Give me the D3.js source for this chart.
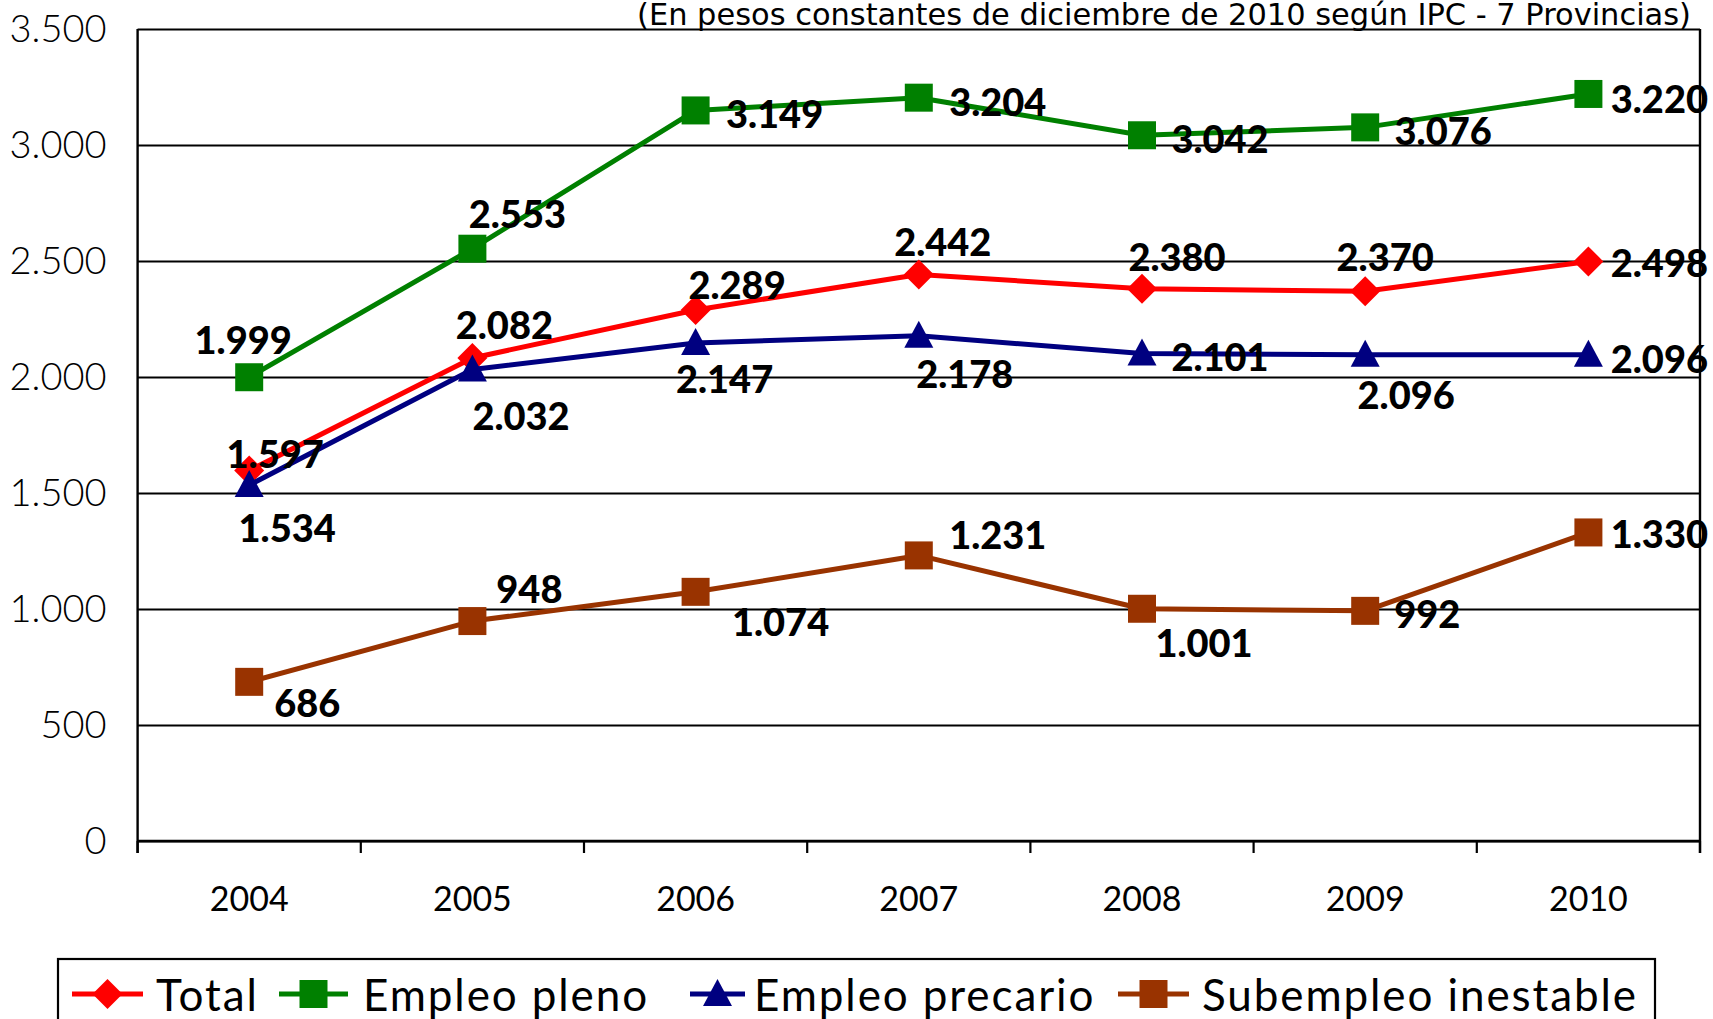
<!DOCTYPE html>
<html>
<head>
<meta charset="utf-8">
<script src="https://cdn.jsdelivr.net/npm/d3@7"></script>
<style>
  html, body { margin: 0; padding: 0; background: #fff; overflow: hidden; }
  svg { display: block; }
</style>
</head>
<body>
<script>
// ---------------- DATA ----------------
const years = ["2004", "2005", "2006", "2007", "2008", "2009", "2010"];
const seriesNames = ["Total", "Empleo pleno", "Empleo precario", "Subempleo inestable"];
const totalValues = [1597, 2082, 2289, 2442, 2380, 2370, 2498];
const plenoValues = [1999, 2553, 3149, 3204, 3042, 3076, 3220];
const precarioValues = [1534, 2032, 2147, 2178, 2101, 2096, 2096];
const subempleoValues = [686, 948, 1074, 1231, 1001, 992, 1330];
const yTicks = [0, 500, 1000, 1500, 2000, 2500, 3000, 3500];
const subtitle = "(En pesos constantes de diciembre de 2010 según IPC - 7 Provincias)";

// ---------------- LAYOUT ----------------
const W = 1713, H = 1019;
const plot = { left: 137.6, right: 1700, top: 29, bottom: 841 };
const colors = ["#FF0000", "#008000", "#000080", "#993300"];
const markers = ["diamond", "square", "triangle", "square"];
// label offsets (dx, dy) relative to each point, per series
const labelOffsets = [
  [[26,-17.5],[32,-34],[41.5,-26],[24,-33],[35,-33],[20,-35],[71,1]],
  [[-6,-38],[45,-36],[79,3],[79,3],[78,3],[78,3],[71,4]],
  [[38,41.5],[48.6,45],[29,35],[46,37],[78,2],[41,39],[71,3]],
  [[58,20],[57,-33],[85,29.5],[79,-21],[62,33],[62,2],[71,1]]
];
const legendItems = [
  { lineX0: 72, lineX1: 143, textX: 156 },
  { lineX0: 279, lineX1: 348, textX: 363 },
  { lineX0: 690, lineX1: 745, textX: 754 },
  { lineX0: 1118, lineX1: 1189, textX: 1202 }
];

const seriesValues = [totalValues, plenoValues, precarioValues, subempleoValues];

const loc = d3.formatLocale({ decimal: ",", thousands: ".", grouping: [3], currency: ["$", ""] });
const fmt = loc.format(",d");

const svg = d3.select("body").append("svg").attr("width", W).attr("height", H);

const x = d3.scaleBand().domain(years).range([plot.left, plot.right]).paddingInner(0).paddingOuter(0);
const y = d3.scaleLinear().domain([0, 3500]).range([plot.bottom, plot.top]);
const cx = d => x(d) + x.bandwidth() / 2;

// gridlines + y labels
const yAxis = d3.axisLeft(y).tickValues(yTicks).tickSize(-(plot.right - plot.left)).tickFormat(fmt).tickPadding(31);
const gy = svg.append("g").attr("transform", `translate(${plot.left},0)`).call(yAxis);
gy.select(".domain").remove();
gy.selectAll(".tick line").attr("stroke", "#000").attr("stroke-width", 2.2);
gy.selectAll(".tick text")
  .attr("fill", "#000")
  .style("font-family", "Lato, 'DejaVu Sans', sans-serif")
  .style("font-weight", 300)
  .style("font-size", "38px");

// x axis
const xAxis = d3.axisBottom(x).tickSize(0).tickPadding(46);
const gx = svg.append("g").attr("transform", `translate(0,${plot.bottom})`).call(xAxis);
gx.select(".domain").remove();
gx.selectAll(".tick text")
  .attr("fill", "#000")
  .style("font-family", "Lato, 'Open Sans', sans-serif")
  .style("font-size", "34px");

// x axis line and boundary ticks
svg.append("line").attr("x1", plot.left).attr("x2", plot.right).attr("y1", plot.bottom).attr("y2", plot.bottom)
  .attr("stroke", "#000").attr("stroke-width", 2.4);
const bounds = years.map(d => x(d)).concat([plot.right]);
svg.selectAll(".xtick").data(bounds).enter().append("line")
  .attr("x1", d => d).attr("x2", d => d)
  .attr("y1", plot.bottom).attr("y2", plot.bottom + 12)
  .attr("stroke", "#000").attr("stroke-width", 2.2);
// plot border left/right
svg.append("line").attr("x1", plot.left).attr("x2", plot.left).attr("y1", plot.top).attr("y2", plot.bottom + 12)
  .attr("stroke", "#000").attr("stroke-width", 2.4);
svg.append("line").attr("x1", plot.right).attr("x2", plot.right).attr("y1", plot.top).attr("y2", plot.bottom + 12)
  .attr("stroke", "#000").attr("stroke-width", 2.4);

// subtitle
const sub = svg.append("text")
  .attr("x", 1691).attr("y", 25)
  .attr("text-anchor", "end")
  .style("font-family", "'DejaVu Sans', sans-serif")
  .style("font-size", "27px")
  .attr("fill", "#000")
  .text(subtitle);
const subW = sub.node().getComputedTextLength();
sub.style("font-size", (27 * 1054 / subW).toFixed(2) + "px");

// marker shapes
function shapeFor(type) {
  if (type === "diamond") return "M0,-15L15,0L0,15L-15,0Z";
  if (type === "square") return "M-14,-14H14V14H-14Z";
  return "M0,-15L14.5,12L-14.5,12Z";
}

const line = d3.line().x((d, i) => cx(years[i])).y(d => y(d));

seriesValues.forEach((vals, s) => {
  const g = svg.append("g");
  g.append("path").datum(vals).attr("d", line)
    .attr("fill", "none").attr("stroke", colors[s]).attr("stroke-width", 5).attr("stroke-linejoin", "round");
  g.selectAll("path.m").data(vals).enter().append("path").attr("class", "m")
    .attr("d", shapeFor(markers[s]))
    .attr("transform", (d, i) => `translate(${cx(years[i])},${y(d)})`)
    .attr("fill", colors[s]);
});

// data labels on top
seriesValues.forEach((vals, s) => {
  svg.append("g").selectAll("text").data(vals).enter().append("text")
    .attr("x", (d, i) => cx(years[i]) + labelOffsets[s][i][0])
    .attr("y", (d, i) => y(d) + labelOffsets[s][i][1])
    .attr("text-anchor", "middle")
    .attr("dominant-baseline", "central")
    .style("font-family", "Lato, 'DejaVu Sans', sans-serif")
    .style("font-weight", 900)
    .style("font-size", "38px")
    .attr("fill", "#000")
    .text(d => fmt(d));
});

// legend
const lg = svg.append("g");
lg.append("rect").attr("x", 58).attr("y", 959).attr("width", 1597).attr("height", 100)
  .attr("fill", "#fff").attr("stroke", "#000").attr("stroke-width", 2.2);
const ly = 994;
seriesNames.forEach((name, s) => {
  const it = legendItems[s];
  lg.append("line").attr("x1", it.lineX0).attr("x2", it.lineX1).attr("y1", ly).attr("y2", ly)
    .attr("stroke", colors[s]).attr("stroke-width", 5);
  lg.append("path").attr("d", shapeFor(markers[s]))
    .attr("transform", `translate(${(it.lineX0 + it.lineX1) / 2},${ly})`).attr("fill", colors[s]);
  lg.append("text").attr("x", it.textX).attr("y", ly).attr("dominant-baseline", "central")
    .style("font-family", "Lato, 'DejaVu Sans', sans-serif")
    .style("font-size", "44px")
    .style("letter-spacing", "1.9px")
    .attr("fill", "#000")
    .text(name);
});
</script>
</body>
</html>
